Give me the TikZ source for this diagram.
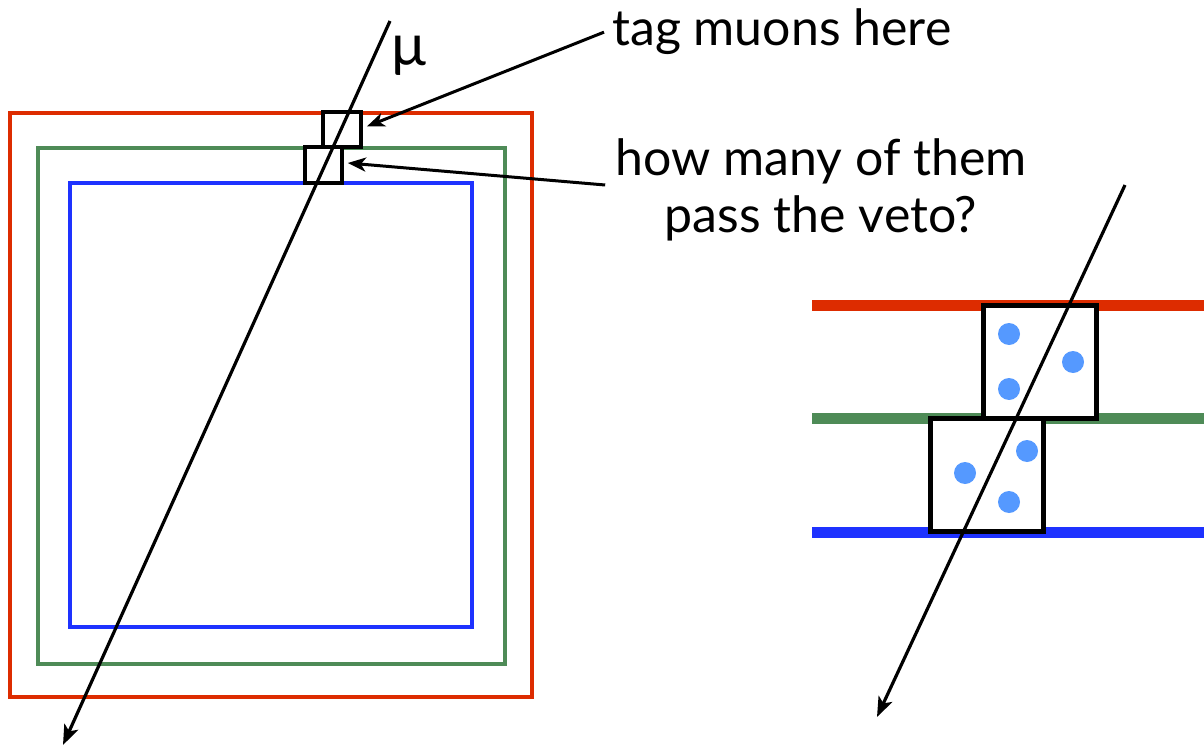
\documentclass[tikz,border=0pt]{standalone}
\usepackage{fontspec}
\setmainfont{Lato}
\usetikzlibrary{arrows.meta}
\definecolor{vred}{HTML}{DD2C00}
\definecolor{vgreen}{HTML}{4E8B57}
\definecolor{vblue}{HTML}{1E32FF}
\definecolor{vdot}{HTML}{5599FF}
\begin{document}
\begin{tikzpicture}[x=1pt,y=-1pt,
  layer/.style={line width=4.8pt},
  band/.style={line width=11pt},
  tagbox/.style={draw=black,fill=white,line width=3.6pt,inner sep=0pt},
  cellbox/.style={draw=black,fill=white,line width=5pt,inner sep=0pt,minimum width=113pt,minimum height=113pt},
  arr/.style={line width=3pt,-{Stealth[length=18pt,width=14pt,inset=5pt]}},
  muline/.style={line width=3.2pt,-{Stealth[length=20pt,width=15pt,inset=5pt]}},
  lbl/.style={font=\fontsize{50}{58}\selectfont,inner sep=0pt},
  dot/.style={fill=vdot}]
\useasboundingbox (0,0) rectangle (1204,754);
% left panel layers
\draw[vred,layer] (10,113) rectangle (532,697);
\draw[vgreen,layer] (38,148) rectangle (505,664);
\draw[vblue,layer] (70,183) rectangle (472,627);
% small boxes
\node[tagbox,minimum width=38pt,minimum height=35pt] (tagA) at (342,129.5) {};
\node[tagbox,minimum width=37pt,minimum height=36pt] (tagB) at (323.5,165) {};
% muon left
\coordinate (muLs) at (390,21);
\coordinate (muLe) at (63,745);
\draw[muline] (muLs) -- (muLe);
\node[font=\fontsize{58}{60}\selectfont,inner sep=0pt,anchor=base] (mu) at (409,66) {µ};
% labels
\node[lbl,anchor=base west] (tagtxt) at (612,46) {tag muons here};
\node[lbl,align=center,anchor=base] (vetotxt) at (821,233) {how many of them\\pass the veto?};
\draw[arr] ([xshift=-8pt]tagtxt.west) -- ([shift={(4,-3)}]tagA.east);
\draw[arr] ([xshift=-10pt]vetotxt.west |- 0,185) -- ([shift={(4,-2)}]tagB.east);
% right panel
\draw[vred,band] (812,305) -- (1204,305);
\draw[vgreen,band] (812,418) -- (1204,418);
\draw[vblue,band] (812,532) -- (1204,532);
\node[cellbox] (cellA) at (1039.5,361.5) {};
\node[cellbox] (cellB) at (987,474.5) {};
\fill[dot] (1009,334) circle (11pt);
\fill[dot] (1073,362) circle (11pt);
\fill[dot] (1009,389) circle (11pt);
\fill[dot] (965,473) circle (11pt);
\fill[dot] (1027,451) circle (11pt);
\fill[dot] (1009,502) circle (11pt);
\coordinate (muRs) at (1125,185);
\coordinate (muRe) at (877,717);
\draw[muline] (muRs) -- (muRe);
\end{tikzpicture}
\end{document}
